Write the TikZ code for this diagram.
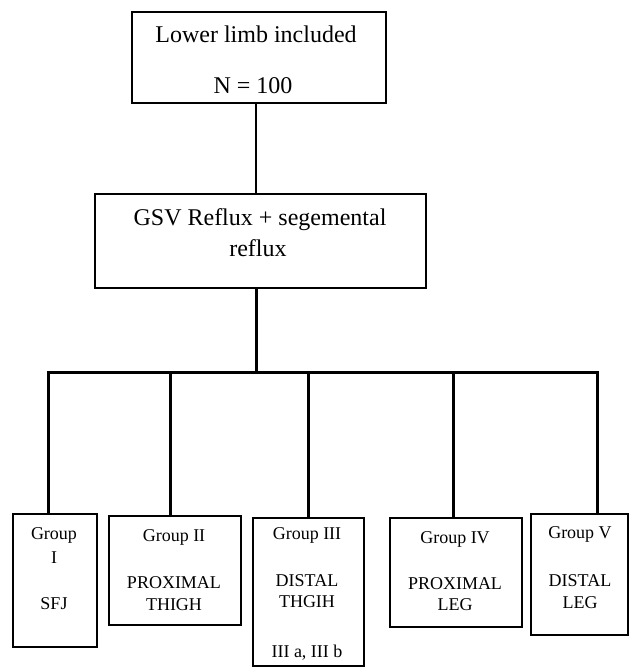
\documentclass[tikz,border=0pt]{standalone}
\usepackage{fontspec}
\setmainfont{Liberation Serif}
\begin{document}
\begin{tikzpicture}[x=1pt,y=-1pt,
  box/.style={draw, line width=1.8pt, inner sep=0pt, anchor=north west},
  big/.style={anchor=base, inner sep=0pt, font=\fontsize{24}{28}\selectfont},
  small/.style={anchor=base, inner sep=0pt, font=\fontsize{18}{21}\selectfont},
  thin/.style={line width=1.8pt},
  conn/.style={line width=3pt, line join=miter}]
\useasboundingbox (0,0) rectangle (629,667);
% boxes
\node[box, minimum width=254pt, minimum height=91pt] (top) at (131,11) {};
\node[box, minimum width=331pt, minimum height=94pt] (gsv) at (94,193) {};
\node[box, minimum width=84pt, minimum height=133pt] (g1) at (12,513) {};
\node[box, minimum width=132pt, minimum height=109pt] (g2) at (108,515) {};
\node[box, minimum width=111pt, minimum height=148pt] (g3) at (252,517) {};
\node[box, minimum width=132pt, minimum height=109pt] (g4) at (389,517) {};
\node[box, minimum width=97pt, minimum height=121pt] (g5) at (530,513) {};
% texts
\node[big] (ta) at (256,42) {Lower limb included};
\node[big] (tb) at (253,93) {N = 100};
\node[big] (sa) at (260,225) {GSV Reflux + segemental};
\node[big] (sb) at (258,256) {reflux};
\node[small] (a1) at (54,539) {Group};
\node[small] (a2) at (54,563) {I};
\node[small] (a3) at (54,609) {SFJ};
\node[small] (b1t) at (174,541) {Group II};
\node[small] (b2t) at (174,588) {PROXIMAL};
\node[small] (b3t) at (174,610) {THIGH};
\node[small] (c1) at (307,539) {Group III};
\node[small] (c2) at (307,586) {DISTAL};
\node[small] (c3) at (307,607) {THGIH};
\node[small] (c4) at (307,657) {III a, III b};
\node[small] (d1) at (455,543) {Group IV};
\node[small] (d2) at (455,589) {PROXIMAL};
\node[small] (d3) at (455,610) {LEG};
\node[small] (e1) at (580,538) {Group V};
\node[small] (e2) at (580,586) {DISTAL};
\node[small] (e3) at (580,608) {LEG};
% connectors
\coordinate (m) at (256,372);
\coordinate (b1) at (48,372);
\coordinate (b2) at (170,372);
\coordinate (b3) at (308,372);
\coordinate (b4) at (453,372);
\coordinate (b5) at (597,372);
\draw[thin] (top.south -| m) -- (gsv.north -| m);
\draw[conn] (gsv.south -| m) -- (m);
\draw[conn] (b1 |- g1.north) -- (b1) -- (b5) -- (b5 |- g5.north);
\draw[conn] (b2) -- (b2 |- g2.north);
\draw[conn] (b3) -- (b3 |- g3.north);
\draw[conn] (b4) -- (b4 |- g4.north);
\end{tikzpicture}
\end{document}
